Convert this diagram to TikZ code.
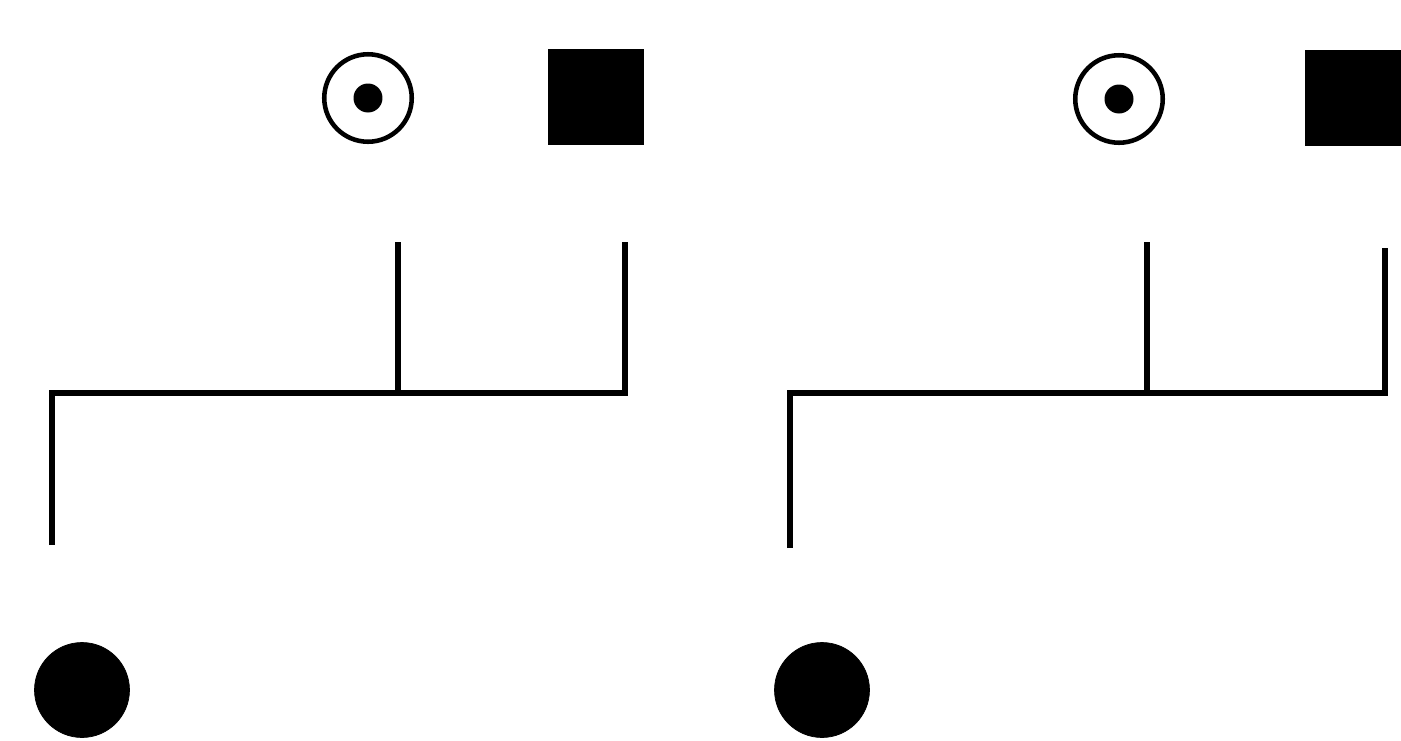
\documentclass[tikz,border=0pt]{standalone}
\usetikzlibrary{positioning}
\tikzset{
  carrier/.style={draw=black, circle, line width=2.6pt, minimum size=1.75cm, inner sep=0pt},
  dotmark/.style={circle, fill=black, minimum size=0.58cm, inner sep=0pt},
  affmale/.style={draw=black, fill=black, line width=0.4pt, minimum size=1.9cm, inner sep=0pt},
  afffemale/.style={circle, draw=black, fill=black, line width=0.4pt, minimum size=1.9cm, inner sep=0pt},
  pedline/.style={draw=black, line width=3pt, line join=miter}
}
\begin{document}
\begin{tikzpicture}[x=0.02cm, y=-0.02cm]
\useasboundingbox (0,0) rectangle (1401,741);
% family 1
\node[carrier] (m1) at (368,98) {};
\node[dotmark] at (m1.center) {};
\node[affmale] (p1) at (596,97) {};
\node[afffemale] (d1) at (82,690) {};
\coordinate (m1a) at (398,242);
\coordinate (p1a) at (625,242);
\coordinate (d1a) at (52,545);
\coordinate (j1) at (625,393);
\draw[pedline] (d1a) |- (j1) -- (p1a);
\draw[pedline] (m1a) -- (m1a |- j1);
% family 2
\node[carrier] (m2) at (1119,99) {};
\node[dotmark] at (m2.center) {};
\node[affmale] (p2) at (1353,98) {};
\node[afffemale] (d2) at (822,690) {};
\coordinate (m2a) at (1147,242);
\coordinate (p2a) at (1385,248);
\coordinate (d2a) at (790,548);
\coordinate (j2) at (1385,393);
\draw[pedline] (d2a) |- (j2) -- (p2a);
\draw[pedline] (m2a) -- (m2a |- j2);
\end{tikzpicture}
\end{document}
